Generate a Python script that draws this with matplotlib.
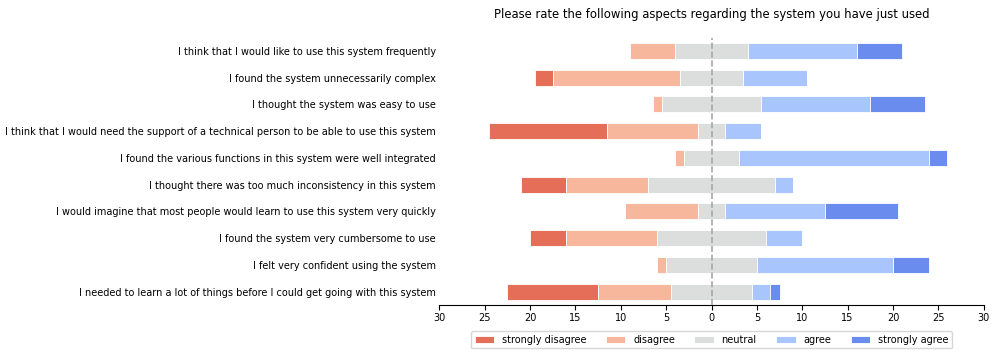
import numpy as np
import matplotlib
matplotlib.use("Agg")
import matplotlib.pyplot as plt

# questions, top to bottom
questions = [
    "I think that I would like to use this system frequently",
    "I found the system unnecessarily complex",
    "I thought the system was easy to use",
    "I think that I would need the support of a technical person to be able to use this system",
    "I found the various functions in this system were well integrated",
    "I thought there was too much inconsistency in this system",
    "I would imagine that most people would learn to use this system very quickly",
    "I found the system very cumbersome to use",
    "I felt very confident using the system",
    "I needed to learn a lot of things before I could get going with this system",
]
categories = ["strongly disagree", "disagree", "neutral", "agree", "strongly agree"]

# answer counts per question
strongly_disagree = [0, 2, 0, 13, 0, 5, 0, 4, 0, 10]
disagree = [5, 14, 1, 10, 1, 9, 8, 10, 1, 8]
neutral = [8, 7, 11, 3, 6, 14, 3, 12, 10, 9]
agree = [12, 7, 12, 4, 21, 2, 11, 4, 15, 2]
strongly_agree = [5, 0, 6, 0, 2, 0, 8, 0, 4, 1]

colors = ["#E46E58", "#F6B79C", "#DCDDDD", "#A8C6FD", "#6A8CEE"]

sd = np.array(strongly_disagree, dtype=float)
d = np.array(disagree, dtype=float)
n = np.array(neutral, dtype=float)
a = np.array(agree, dtype=float)
sa = np.array(strongly_agree, dtype=float)

# neutral is split around zero
starts = [-(sd + d + n / 2), -(d + n / 2), -n / 2, n / 2, n / 2 + a]
widths = [sd, d, n, a, sa]

y = np.arange(len(questions))[::-1]

fig = plt.figure(figsize=(9.97, 3.55), dpi=100)
ax = fig.add_axes([0.4406, 0.1408, 0.5461, 0.7533])

for st, w, c, lab in zip(starts, widths, colors, categories):
    ax.barh(y, w, left=st, height=0.6, color=c, edgecolor="white",
            linewidth=0.6, label=lab)

# zero line drawn over the bars
ax.axvline(0, color="#a8a8a8", linestyle="--", linewidth=1.2, zorder=3)

ax.set_xlim(-30, 30)
ax.set_ylim(-0.5, len(questions) - 0.5)
ticks = np.arange(-30, 31, 5)
ax.set_xticks(ticks)
ax.set_xticklabels([str(abs(t)) for t in ticks], fontsize=7)
ax.set_yticks(y)
ax.set_yticklabels(questions, fontsize=7)
ax.tick_params(axis="y", length=0, pad=2.5)
ax.tick_params(axis="x", length=3.5, pad=2)

for s in ["top", "right", "left"]:
    ax.spines[s].set_visible(False)

ax.set_title("Please rate the following aspects regarding the system you have just used",
             fontsize=8.4, pad=14)

ax.legend(loc="upper center", bbox_to_anchor=(0.5, -0.096), borderaxespad=0,
          ncol=5, fontsize=7, frameon=True)

fig.savefig("out.png", dpi=100)
